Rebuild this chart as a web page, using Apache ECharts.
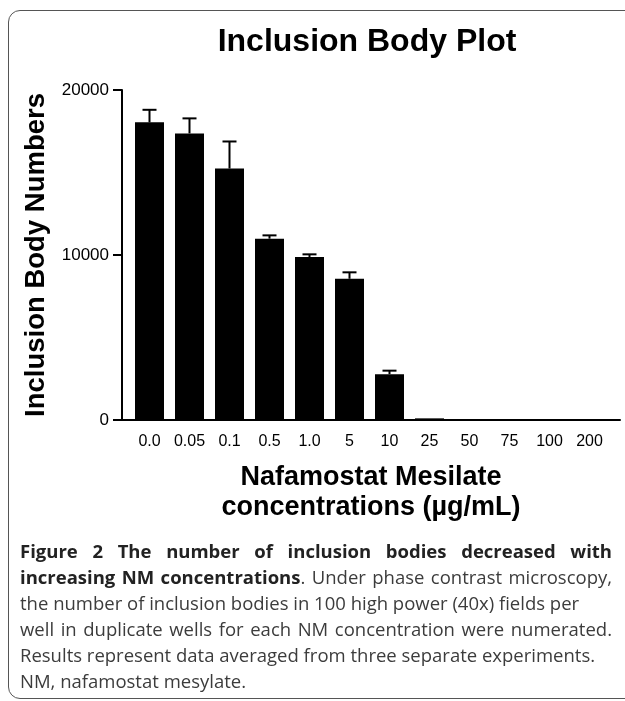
<!DOCTYPE html>
<html>
<head>
<meta charset="utf-8">
<script src="https://cdn.jsdelivr.net/npm/echarts@6/dist/echarts.min.js"></script>
<style>
  html, body { margin: 0; padding: 0; background: #fff; }
  #chart { position: absolute; left: 0; top: 0; width: 625px; height: 701px; }
  #frame { position: absolute; left: 8px; top: 10px; width: 700px; height: 689px;
           border: 1.5px solid #555; border-radius: 12px; box-sizing: border-box; pointer-events: none; }
  #cap { position: absolute; left: 20px; top: 538px; width: 592px;
         font-family: 'Open Sans', sans-serif; font-size: 18.5px; line-height: 25.9px; color: #3c3c3c; }
  #cap div { white-space: nowrap; }
  #cap .j { text-align: justify; text-align-last: justify; }
  #cap b { color: #222; font-weight: 700; }
</style>
</head>
<body>
<div id="chart"></div>
<div id="frame"></div>
<div id="cap">
  <div class="j"><b>Figure 2 The number of inclusion bodies decreased with</b></div>
  <div class="j"><b>increasing NM concentrations</b>. Under phase contrast microscopy,</div>
  <div>the number of inclusion bodies in 100 high power (40x) fields per</div>
  <div class="j">well in duplicate wells for each NM concentration were numerated.</div>
  <div>Results represent data averaged from three separate experiments.</div>
  <div>NM, nafamostat mesylate.</div>
</div>
<script>
// ---- data ----
const categories = ['0.0', '0.05', '0.1', '0.5', '1.0', '5', '10', '25', '50', '75', '100', '200'];
const meanValues = [18040, 17370, 15240, 10990, 9880, 8560, 2780, 100, 20, 20, 20, 20];
const errorValues = [760, 910, 1640, 200, 160, 390, 210, 0, 0, 0, 0, 0];
const yTicks = [0, 10000, 20000];

const chart = echarts.init(document.getElementById('chart'), null, { renderer: 'canvas' });
const FONT = "'Liberation Sans', Arial, sans-serif";

const errData = categories.map((c, i) => [i, meanValues[i], errorValues[i]]);

const option = {
  backgroundColor: '#fff',
  animation: false,
  title: {
    text: 'Inclusion Body Plot',
    left: 362, top: 21, textAlign: 'center',
    textStyle: { fontFamily: FONT, fontSize: 32, fontWeight: 'bold', color: '#000' }
  },
  grid: [
    { left: 122, top: 90, width: 498, height: 330 },
    { left: 129.5, top: 90, width: 480, height: 330 }
  ],
  xAxis: [
    {
      gridIndex: 0, type: 'value', min: 0, max: 1,
      axisLine: { show: true, lineStyle: { color: '#000', width: 2 } },
      axisTick: { show: false }, axisLabel: { show: false }, splitLine: { show: false },
      name: 'Nafamostat Mesilate\nconcentrations (\u00b5g/mL)',
      nameLocation: 'middle', nameGap: 43,
      nameTextStyle: { fontFamily: FONT, fontSize: 27, fontWeight: 'bold', color: '#000', lineHeight: 30, verticalAlign: 'top' }
    },
    {
      gridIndex: 1, type: 'category', data: categories,
      axisLine: { show: false }, axisTick: { show: false },
      axisLabel: { interval: 0, margin: 14, fontFamily: FONT, fontSize: 16, color: '#000' }
    }
  ],
  yAxis: [
    {
      gridIndex: 0, type: 'value', min: yTicks[0], max: yTicks[yTicks.length - 1], interval: 10000,
      axisLine: { show: true, lineStyle: { color: '#000', width: 2 } },
      axisTick: { show: true, length: 9, lineStyle: { color: '#000', width: 2 } },
      axisLabel: { margin: 13, fontFamily: FONT, fontSize: 17, color: '#000',
                   formatter: function (v) { return String(v); } },
      splitLine: { show: false },
      name: 'Inclusion Body Numbers', nameLocation: 'middle', nameGap: 72,
      nameTextStyle: { fontFamily: FONT, fontSize: 27.5, fontWeight: 'bold', color: '#000' }
    },
    {
      gridIndex: 1, type: 'value', min: yTicks[0], max: yTicks[yTicks.length - 1], interval: 10000,
      show: false
    }
  ],
  series: [
    {
      type: 'bar', xAxisIndex: 1, yAxisIndex: 1, data: meanValues,
      barWidth: 29, itemStyle: { color: '#000' }, z: 2
    },
    {
      type: 'custom', xAxisIndex: 1, yAxisIndex: 1, data: errData, z: 3,
      encode: { x: 0, y: 1 },
      renderItem: function (params, api) {
        const i = api.value(0), m = api.value(1), e = api.value(2);
        if (!e) return null;
        const base = api.coord([i, m]);
        const top = api.coord([i, m + e]);
        const half = 7;
        return {
          type: 'group',
          children: [
            { type: 'line', shape: { x1: base[0], y1: base[1], x2: top[0], y2: top[1] },
              style: { stroke: '#000', lineWidth: 2 } },
            { type: 'line', shape: { x1: top[0] - half, y1: top[1], x2: top[0] + half, y2: top[1] },
              style: { stroke: '#000', lineWidth: 2 } }
          ]
        };
      }
    }
  ]
};
chart.setOption(option);
</script>
</body>
</html>
